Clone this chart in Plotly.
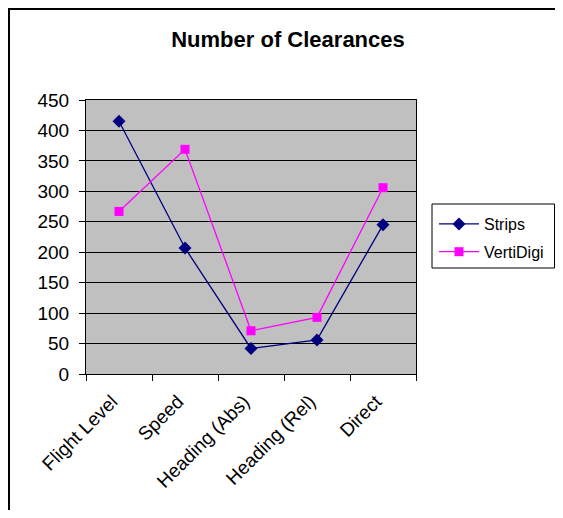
import plotly.graph_objects as go

categories = ["Flight Level", "Speed", "Heading (Abs)", "Heading (Rel)", "Direct"]
strips = [415, 207, 42, 56, 245]
vertidigi = [267, 369, 71, 93, 306]
y_ticks = [0, 50, 100, 150, 200, 250, 300, 350, 400, 450]

# the page has an 8px body margin, so the figure origin sits at (8, 8)
OFF = 8
W, H = 563 - 2 * OFF, 518 - 2 * OFF
L, T = 86 - OFF, 100 - OFF
R = W - (416 - OFF)
B = H - (374 - OFF)
pw = W - L - R
ph = H - T - B


def px(x):
    return (x - OFF - L) / pw


def py(y):
    return (H - B - (y - OFF)) / ph


fig = go.Figure()
fig.add_trace(go.Scatter(
    x=categories, y=strips, name="Strips", mode="lines+markers",
    legendgroup="a",
    line=dict(color="#000080", width=1.3),
    marker=dict(symbol="diamond", size=10, color="#000080"),
))
fig.add_trace(go.Scatter(
    x=categories, y=vertidigi, name="VertiDigi", mode="lines+markers",
    legendgroup="b",
    line=dict(color="#FF00FF", width=1.3),
    marker=dict(symbol="square", size=9, color="#FF00FF"),
))

fig.update_layout(
    width=W, height=H,
    margin=dict(l=L, r=R, t=T, b=B, autoexpand=False),
    paper_bgcolor="white",
    plot_bgcolor="#C0C0C0",
    font=dict(family="Arial, Liberation Sans, sans-serif", size=19, color="black"),
    title=dict(text="<b>Number of Clearances</b>", x=(288 - OFF) / W, xanchor="center",
               y=1 - (39 - OFF) / H, yanchor="middle",
               font=dict(size=22, color="black")),
    showlegend=True,
    legend=dict(x=px(434), y=py(207), xanchor="left", yanchor="top",
                borderwidth=0, bgcolor="rgba(0,0,0,0)",
                font=dict(size=16), itemwidth=40, tracegroupgap=4),
    shapes=[
        dict(type="rect", xref="paper", yref="paper",
             x0=px(432), x1=px(554.5), y0=py(268), y1=py(204),
             line=dict(color="black", width=1), fillcolor="white", layer="below"),
        dict(type="rect", xref="paper", yref="paper",
             x0=px(8.5), x1=px(600), y0=py(560), y1=py(8.5),
             line=dict(color="black", width=3), layer="above"),
    ],
)
fig.update_xaxes(
    type="category", range=[-0.5, 4.5], showgrid=False, showline=True,
    linecolor="black", linewidth=1,
    ticks="outside", tickson="boundaries", ticklen=6, tickcolor="black",
    tickangle=-45, mirror=True, zeroline=False, automargin=False,
    ticklabelstandoff=8, ticklabelshift=-7,
)
fig.update_yaxes(
    range=[0, 450], tickvals=y_ticks, showgrid=True, gridcolor="black", gridwidth=1,
    showline=True, linecolor="black", linewidth=1, mirror=True,
    ticks="outside", ticklen=6, tickcolor="black", zeroline=False, automargin=False,
    ticklabelstandoff=6,
)

fig.write_html("out.html")
